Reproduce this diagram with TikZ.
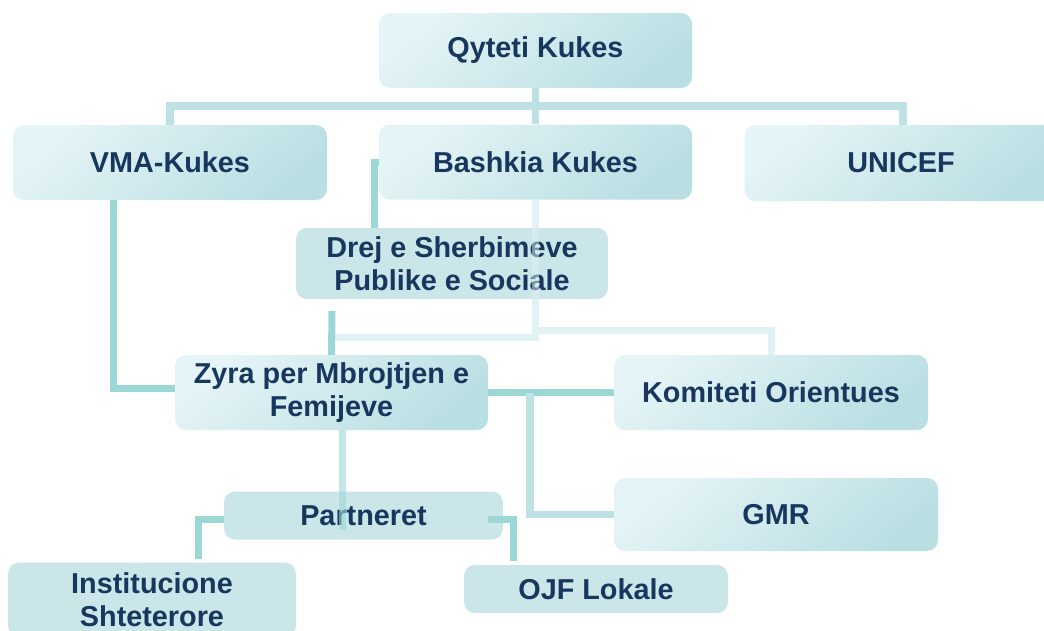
\documentclass[tikz,border=0pt]{standalone}
\usepackage{fontspec}
\setmainfont{Liberation Sans}
\usetikzlibrary{calc}
\pgfdeclarelayer{background}
\pgfsetlayers{background,main}
\definecolor{txt}{HTML}{17375E}
\definecolor{gA}{HTML}{E5F4F6}
\definecolor{gM}{HTML}{DCEFF2}
\definecolor{gB}{HTML}{BADFE3}
\definecolor{flatc}{HTML}{CAE6E9}
\definecolor{dkc}{HTML}{9AD7D5}
\definecolor{mdc}{HTML}{BEE1E4}
\definecolor{ltc}{HTML}{E1F2F4}
\begin{document}
\begin{tikzpicture}[x=1pt,y=-1pt,
  box/.style={rounded corners=11pt, inner sep=0pt, align=center, text=txt,
    font=\fontsize{28.8}{33}\selectfont\bfseries},
  gradbox/.style={box, top color=gA, middle color=gM, bottom color=gB, shading angle=40},
  flatbox/.style={box, fill=flatc},
  dkline/.style={draw=dkc, line width=7pt},
  mdline/.style={draw=mdc, line width=7.5pt},
  ltline/.style={draw=ltc, line width=7pt}]
\useasboundingbox (0,0) rectangle (1044,630);

\node[gradbox, minimum width=313pt, minimum height=75pt] (qyteti) at (535.5,50.5) {Qyteti Kukes};
\node[gradbox, minimum width=313pt, minimum height=75pt] (bashkia) at (535.5,162) {Bashkia Kukes};
\node[gradbox, minimum width=314pt, minimum height=75pt] (vma) at (170,162.5) {VMA-Kukes};
\node[gradbox, minimum width=313pt, minimum height=76pt] (unicef) at (901,163) {UNICEF};
\node[flatbox, minimum width=312pt, minimum height=71pt] (drej) at (452,263.5) {Drej e Sherbimeve\\Publike e Sociale};
\node[gradbox, minimum width=313pt, minimum height=75pt] (zyra) at (331.5,392.5) {Zyra per Mbrojtjen e\\Femijeve};
\node[gradbox, minimum width=314pt, minimum height=75pt] (komiteti) at (771,392.5) {Komiteti Orientues};
\node[gradbox, minimum width=324pt, minimum height=73pt] (gmr) at (776,514.5) {GMR};
\node[flatbox, minimum width=279pt, minimum height=48pt] (partneret) at (363.5,515.5) {Partneret};
\node[flatbox, minimum width=288pt, minimum height=74pt] (inst) at (152,599.5) {Institucione\\Shteterore};
\node[flatbox, minimum width=264pt, minimum height=48pt] (ojf) at (596,589) {OJF Lokale};

\begin{pgfonlayer}{background}
  \draw[mdline] (qyteti.south) -- (bashkia.north);
  \draw[mdline] (vma.north) -- ++(0,-19) -| ($(unicef.north)+(2,0)$);
  \draw[dkline] (bashkia.west) -| ($(drej.north west)+(79,2)$);
  \draw[ltline] (bashkia.south) -- ++(0,138) -- ++(-203,0);
  \draw[ltline] ($(bashkia.south)+(0,131)$) -| (komiteti.north);
  \draw[dkline] ($(drej.south)+(-120,12)$) -- (zyra.north);
  \draw[dkline] ($(vma.south)+(-57,0)$) |- ($(zyra.west)+(5,-4)$);
  \draw[dkline] (zyra.east) -- (komiteti.west);
  \draw[mdline] ($(zyra.east)+(42,0)$) |- (gmr.west);
  \draw[dkline] ($(partneret.west)+(0,4)$) -| ($(inst.north)+(46,-3)$);
\end{pgfonlayer}

\draw[ltline, opacity=0.5] (bashkia.south) -- ++(0,138);
\draw[dkline, opacity=0.6] ($(zyra.south)+(11,0)$) -- ($(partneret.south)+(-21,-10)$);
\draw[dkline] ($(partneret.east)+(-15,4)$) -| ($(ojf.north)+(-83,-4)$);
\end{tikzpicture}
\end{document}
